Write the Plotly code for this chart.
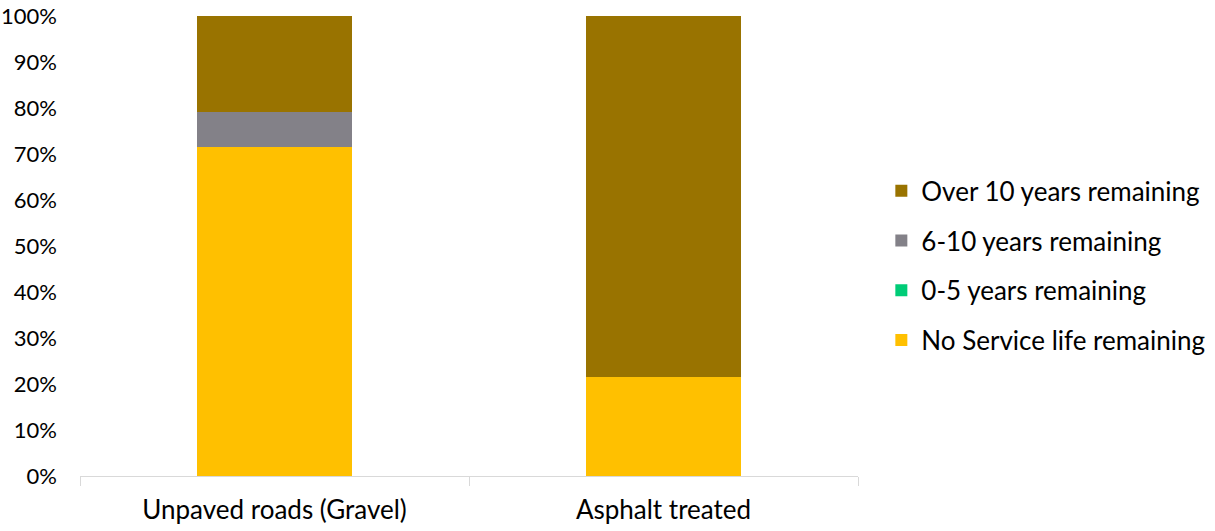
import plotly.graph_objects as go

categories = ["Unpaved roads (Gravel)", "Asphalt treated"]
no_service = [0.715, 0.215]
zero_five = [0.0, 0.0]
six_ten = [0.076, 0.0]
over_ten = [0.209, 0.785]

series = [
    ("No Service life remaining", no_service, "#FFC000", 4),
    ("0-5 years remaining", zero_five, "#00CC77", 3),
    ("6-10 years remaining", six_ten, "#838188", 2),
    ("Over 10 years remaining", over_ten, "#997300", 1),
]

fig = go.Figure()
for i, (name, vals, col, rank) in enumerate(series):
    fig.add_trace(go.Bar(x=categories, y=vals, name=name, marker_color=col,
                         marker_line_width=0, legendgroup=str(i), legendrank=rank))

fig.update_layout(
    barmode="stack",
    bargap=0.6,
    width=1215, height=531,
    margin=dict(l=80, r=357, t=16, b=55, autoexpand=False),
    plot_bgcolor="white", paper_bgcolor="white",
    font=dict(family="Lato, Open Sans, sans-serif", color="#000000"),
    legend=dict(traceorder="grouped", x=1.03, xanchor="left", y=0.457, yanchor="middle",
                font=dict(size=26), tracegroupgap=13, itemwidth=30),
    showlegend=True,
)
fig.update_xaxes(showline=True, linecolor="#D9D9D9", linewidth=1, ticks="outside",
                 tickson="boundaries", ticklen=9, tickcolor="#D9D9D9",
                 tickfont=dict(size=26), showgrid=False, ticklabelstandoff=11)
fig.update_yaxes(range=[0, 1], dtick=0.1, tickformat=".0%", showgrid=False,
                 zeroline=False, showline=False, tickfont=dict(size=22),
                 ticks="", ticklabelstandoff=22)
fig.write_html("out.html")
